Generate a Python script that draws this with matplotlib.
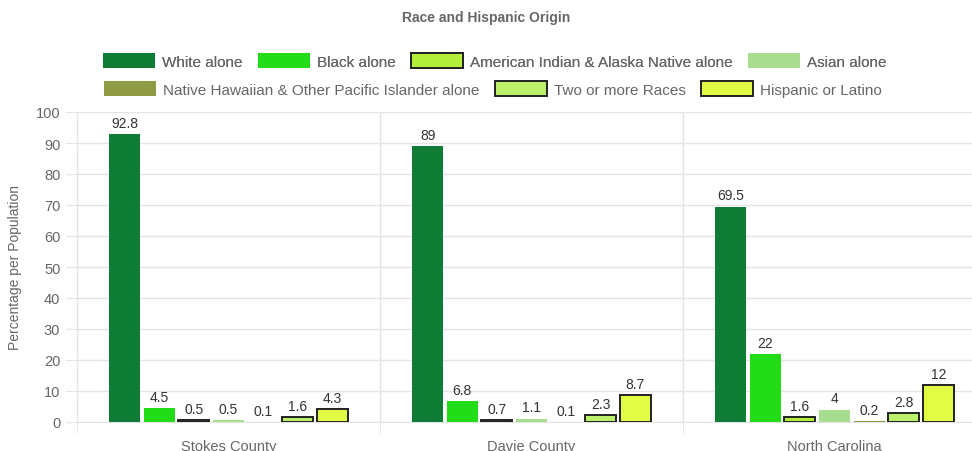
import matplotlib.pyplot as plt
import matplotlib.patches as mpatches
import numpy as np

plt.rcParams['font.family'] = ['Liberation Sans', 'DejaVu Sans']

# Data
counties = ['Stokes County', 'Davie County', 'North Carolina']
groups = ['White alone', 'Black alone', 'American Indian & Alaska Native alone',
          'Asian alone', 'Native Hawaiian & Other Pacific Islander alone',
          'Two or more Races', 'Hispanic or Latino']
white = [92.8, 89, 69.5]
black = [4.5, 6.8, 22]
am_indian = [0.5, 0.7, 1.6]
asian = [0.5, 1.1, 4]
hawaiian = [0.1, 0.1, 0.2]
two_more = [1.6, 2.3, 2.8]
hispanic = [4.3, 8.7, 12]
y_ticks = [0, 10, 20, 30, 40, 50, 60, 70, 80, 90, 100]

series = [white, black, am_indian, asian, hawaiian, two_more, hispanic]
colors = ['#0f7c35', '#22dc18', '#b3ef3a', '#a8dc8e', '#8f9a45', '#baf06a', '#e2fb44']
bordered = [False, False, True, False, False, True, True]

grey = '#666666'
grid_c = '#e4e4e4'

fig = plt.figure(figsize=(9.72, 4.52), dpi=100)
ax = fig.add_axes([77 / 972, 29 / 452, 909 / 972, 310 / 452])

x = np.arange(len(counties))
slot = 0.8 / len(series)
bw = slot * 0.9

for i, vals in enumerate(series):
    pos = x + (i - 3) * slot
    if bordered[i]:
        bars = ax.bar(pos, vals, bw, color=colors[i], edgecolor='#222222', linewidth=1.4, zorder=3)
    else:
        bars = ax.bar(pos, vals, bw, color=colors[i], linewidth=0, zorder=3)
    for b, v in zip(bars, vals):
        ax.annotate(f'{v:g}', (b.get_x() + b.get_width() / 2, v), xytext=(0, 3),
                    textcoords='offset points', ha='center', va='bottom',
                    fontsize=10, color='#333333')

ax.set_xlim(-0.5, 2.5)
ax.set_ylim(0, 100)
ax.set_yticks(y_ticks)
ax.set_xticks(x)
ax.set_xticklabels(counties)
ax.set_xticks([-0.5, 0.5, 1.5, 2.5], minor=True)
ax.tick_params(axis='x', which='major', length=0, pad=12, labelsize=10.5, labelcolor=grey)
ax.tick_params(axis='x', which='minor', length=8, color=grid_c)
ax.tick_params(axis='y', length=8, color=grid_c, labelsize=10.5, labelcolor=grey, pad=4)
ax.grid(True, axis='y', color=grid_c, linewidth=1, zorder=0)
ax.grid(True, axis='x', which='minor', color=grid_c, linewidth=1, zorder=0)
for s in ['top', 'right']:
    ax.spines[s].set_visible(False)
ax.spines['left'].set_color(grid_c)
ax.spines['bottom'].set_color(grid_c)
ax.set_ylabel('Percentage per Population', fontsize=10, color=grey, labelpad=10)

# Legend in two flowing rows like the original
handles = []
for i, g in enumerate(groups):
    if bordered[i]:
        handles.append(mpatches.Patch(facecolor=colors[i], edgecolor='#222222', linewidth=1.4, label=g))
    else:
        handles.append(mpatches.Patch(facecolor=colors[i], edgecolor='none', label=g))

leg_kw = dict(loc='center', frameon=False, fontsize=11, handlelength=3.4, handleheight=1.05,
              handletextpad=0.46, columnspacing=1.0, borderpad=0)
row1 = fig.legend(handles=handles[:4], ncol=4, bbox_to_anchor=(495 / 972, 1 - 62 / 452), **leg_kw)
fig.add_artist(row1)
row2 = fig.legend(handles=handles[4:], ncol=3, bbox_to_anchor=(493 / 972, 1 - 90 / 452), **leg_kw)
for lg in (row1, row2):
    for t in lg.get_texts():
        t.set_color(grey)

fig.text(0.5, 1 - 18 / 452, 'Race and Hispanic Origin', ha='center', va='center',
         fontsize=10, fontweight='bold', color=grey)

fig.savefig('out.png', dpi=100)
